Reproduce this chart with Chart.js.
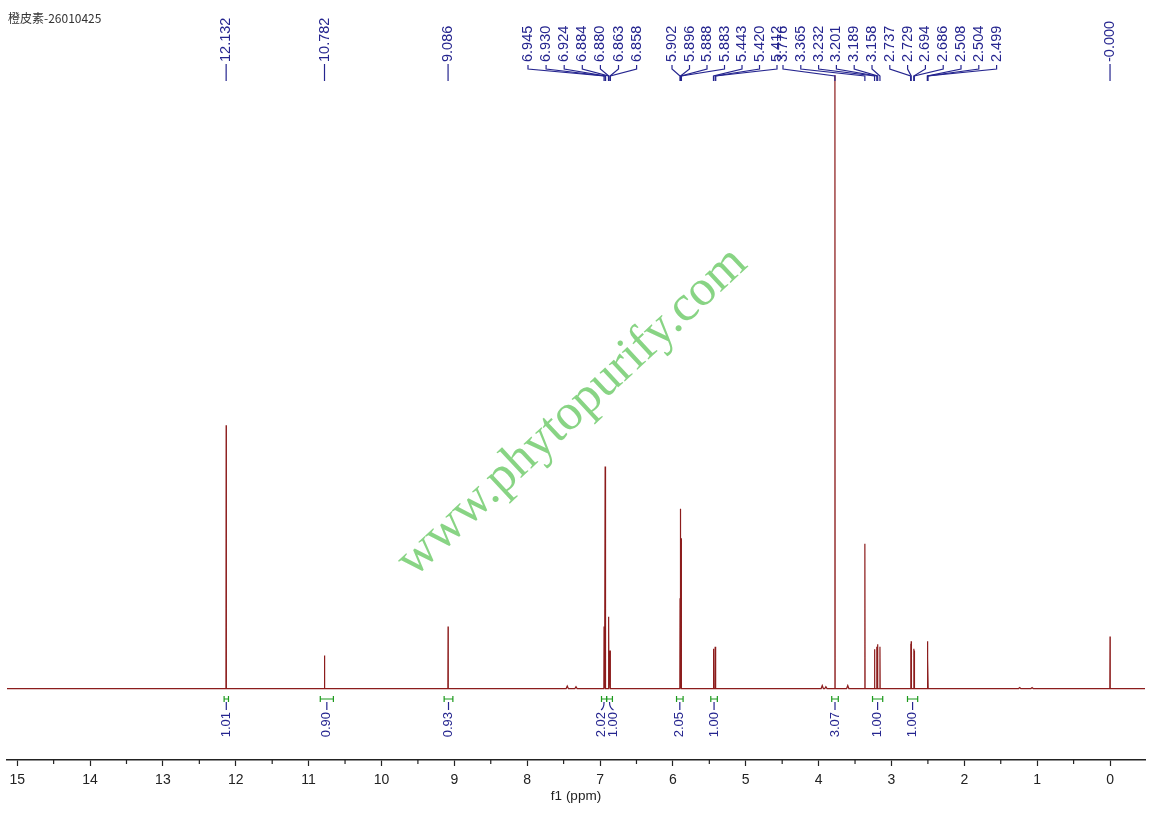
<!DOCTYPE html>
<html>
<head>
<meta charset="utf-8">
<script src="https://cdn.jsdelivr.net/npm/chart.js@4.4.1/dist/chart.umd.min.js"></script>
<style>
  html, body { margin: 0; padding: 0; background: #fff; }
  canvas { display: block; }
</style>
</head>
<body>
<canvas id="nmr" width="1149" height="814"></canvas>
<script>
var sampleName = "橙皮素-26010425";

// picked peaks (ppm), labels and heights (% of tallest peak)
var peakPpm = [12.132, 10.782, 9.086,
  6.945, 6.930, 6.924, 6.884, 6.880, 6.863, 6.858,
  5.902, 5.896, 5.888, 5.883, 5.443, 5.420, 5.412,
  3.776, 3.365, 3.232, 3.201, 3.189, 3.158,
  2.737, 2.729, 2.694, 2.686, 2.508, 2.504, 2.499, 0.000];
var peakLabel = ["12.132", "10.782", "9.086",
  "6.945", "6.930", "6.924", "6.884", "6.880", "6.863", "6.858",
  "5.902", "5.896", "5.888", "5.883", "5.443", "5.420", "5.412",
  "3.776", "3.365", "3.232", "3.201", "3.189", "3.158",
  "2.737", "2.729", "2.694", "2.686", "2.508", "2.504", "2.499", "-0.000"];
var peakHeight = [42.9, 5.4, 10.1,
  10.1, 36.2, 19.6, 11.7, 10.8, 6.2, 5.2,
  14.7, 29.3, 24.5, 9.8, 6.5, 6.8, 6.5,
  100, 23.6, 6.4, 6.8, 7.2, 6.8,
  7.3, 7.7, 6.5, 6.2, 4.9, 7.7, 4.9, 8.5];

// small unlabelled bumps
var minorPpm = [7.45, 7.33, 3.95, 3.90, 3.60, 1.24, 1.07];
var minorHeight = [0.4, 0.3, 0.5, 0.3, 0.5, 0.15, 0.15];

// integrals
var intFrom = [12.16, 10.84, 9.14, 6.98, 6.91, 5.95, 5.48, 3.82, 3.26, 2.78];
var intTo = [12.10, 10.66, 9.02, 6.91, 6.83, 5.86, 5.39, 3.73, 3.12, 2.64];
var intValue = ["1.01", "0.90", "0.93", "2.02", "1.00", "2.05", "1.00", "3.07", "1.00", "1.00"];

var xMin = -0.48, xMax = 15.14;

// layout of the stacked peak labels (pixels)
var labelGroups = [
  { from: 3, to: 9, start: 528, step: 18.1 },
  { from: 10, to: 16, start: 672, step: 17.5 },
  { from: 17, to: 29, start: 783, step: 17.8 }
];
var intLabelShift = [0, 0, 0, -3, 4, 0, 0, 0, 0, 0];

var blue = "#25258f";
var green = "#1c9a1c";

// spectrum line built from the peak list
var peaks = [];
peakPpm.forEach(function (p, i) { peaks.push({ p: p, h: peakHeight[i], w: 0.003 }); });
minorPpm.forEach(function (p, i) { peaks.push({ p: p, h: minorHeight[i], w: 0.015 }); });
peaks.sort(function (a, b) { return b.p - a.p; });
var spectrum = [{ x: xMax, y: 0 }];
peaks.forEach(function (pk) {
  spectrum.push({ x: pk.p + pk.w, y: 0 }, { x: pk.p, y: pk.h }, { x: pk.p - pk.w, y: 0 });
});
spectrum.push({ x: xMin, y: 0 });

function labelX(i, xs) {
  for (var g = 0; g < labelGroups.length; g++) {
    var grp = labelGroups[g];
    if (i >= grp.from && i <= grp.to) return grp.start + (i - grp.from) * grp.step;
  }
  return xs.getPixelForValue(peakPpm[i]);
}

var decor = {
  id: "decor",
  afterDraw: function (chart) {
    var ctx = chart.ctx;
    var xs = chart.scales.x;
    var axisY = chart.chartArea.bottom;

    // minor ticks
    ctx.save();
    ctx.strokeStyle = "#222";
    ctx.lineWidth = 1.2;
    xs.ticks.forEach(function (t) {
      if (Math.abs(t.value - Math.round(t.value)) > 1e-6) {
        var px = xs.getPixelForValue(t.value);
        ctx.beginPath();
        ctx.moveTo(px, axisY);
        ctx.lineTo(px, axisY + 4);
        ctx.stroke();
      }
    });
    ctx.restore();

    // sample name
    ctx.save();
    ctx.font = '12px "Noto Sans CJK SC"';
    ctx.fillStyle = "#333";
    ctx.textBaseline = "middle";
    ctx.fillText(sampleName, 8, 18);
    ctx.restore();

    // peak labels
    ctx.save();
    ctx.strokeStyle = blue;
    ctx.fillStyle = blue;
    ctx.lineWidth = 1.2;
    ctx.font = '14.5px "Liberation Sans", Arial, sans-serif';
    for (var i = 0; i < peakPpm.length; i++) {
      var px = xs.getPixelForValue(peakPpm[i]);
      var lx = labelX(i, xs);
      ctx.beginPath();
      if (Math.abs(lx - px) < 0.5) {
        ctx.moveTo(px, 64);
        ctx.lineTo(px, 81);
      } else {
        ctx.moveTo(lx, 65);
        ctx.lineTo(lx, 69);
        ctx.lineTo(px, 76);
        ctx.lineTo(px, 81);
      }
      ctx.stroke();
      ctx.save();
      ctx.translate(lx, 62);
      ctx.rotate(-Math.PI / 2);
      ctx.textAlign = "left";
      ctx.textBaseline = "middle";
      ctx.fillText(peakLabel[i], 0, 0);
      ctx.restore();
    }
    ctx.restore();

    // integrals
    ctx.save();
    ctx.lineWidth = 1.2;
    ctx.font = '13px "Liberation Sans", Arial, sans-serif';
    for (var k = 0; k < intValue.length; k++) {
      var a = xs.getPixelForValue(intFrom[k]);
      var b = xs.getPixelForValue(intTo[k]);
      var c = (a + b) / 2;
      ctx.strokeStyle = green;
      ctx.beginPath();
      ctx.moveTo(a, 699); ctx.lineTo(b, 699);
      ctx.moveTo(a, 696); ctx.lineTo(a, 702);
      ctx.moveTo(b, 696); ctx.lineTo(b, 702);
      ctx.stroke();
      var tx = c + intLabelShift[k];
      ctx.strokeStyle = blue;
      ctx.beginPath();
      ctx.moveTo(c, 702);
      if (intLabelShift[k] === 0) {
        ctx.lineTo(c, 710);
      } else {
        ctx.quadraticCurveTo(c, 708, tx, 710);
      }
      ctx.stroke();
      ctx.save();
      ctx.fillStyle = blue;
      ctx.translate(tx, 712);
      ctx.rotate(-Math.PI / 2);
      ctx.textAlign = "right";
      ctx.textBaseline = "middle";
      ctx.fillText(intValue[k], 0, 0);
      ctx.restore();
    }
    ctx.restore();

    // watermark
    ctx.save();
    ctx.translate(414, 578);
    ctx.rotate(-43 * Math.PI / 180);
    ctx.font = '51px "Liberation Serif", "DejaVu Serif", serif';
    ctx.fillStyle = "rgba(115, 205, 110, 0.85)";
    ctx.fillText("www.phytopurify.com", 0, 0);
    ctx.restore();
  }
};

new Chart(document.getElementById("nmr"), {
  type: "scatter",
  data: {
    datasets: [{
      data: spectrum,
      showLine: true,
      borderColor: "#8c1c1c",
      borderWidth: 1.2,
      pointRadius: 0,
      tension: 0
    }]
  },
  options: {
    responsive: false,
    animation: false,
    layout: { padding: { left: 7, right: 4, top: 60, bottom: 0 } },
    plugins: { legend: { display: false }, tooltip: { enabled: false } },
    scales: {
      x: {
        type: "linear",
        reverse: true,
        min: xMin,
        max: xMax,
        afterFit: function (scale) { scale.height = 54; },
        border: { display: true, color: "#222", width: 1.5 },
        grid: {
          display: true,
          drawOnChartArea: false,
          drawTicks: true,
          tickLength: 6,
          tickWidth: 1.2,
          tickColor: function (c) {
            var v = c.tick ? c.tick.value : 0;
            return Math.abs(v - Math.round(v)) < 1e-6 ? "#222" : "rgba(0,0,0,0)";
          }
        },
        ticks: {
          stepSize: 0.5,
          includeBounds: false,
          autoSkip: false,
          maxRotation: 0,
          padding: 6,
          color: "#222",
          font: { family: '"Liberation Sans", Arial, sans-serif', size: 14 },
          callback: function (v) {
            return Math.abs(v - Math.round(v)) < 1e-6 ? String(Math.round(v)) : "";
          }
        },
        title: {
          display: true,
          text: "f1 (ppm)",
          color: "#222",
          font: { family: '"Liberation Sans", Arial, sans-serif', size: 13.5 },
          padding: { top: 0, bottom: 10 }
        }
      },
      y: { display: false, min: -11.65, max: 102.45 }
    }
  },
  plugins: [decor]
});
</script>
</body>
</html>
